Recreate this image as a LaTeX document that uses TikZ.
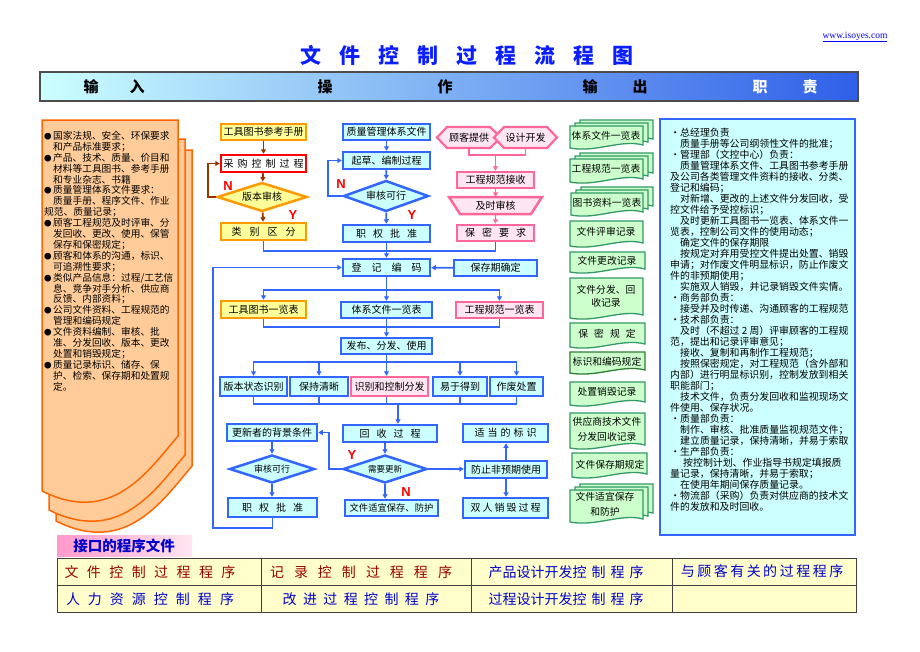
\documentclass[tikz,border=0pt]{standalone}
\usepackage{fontspec}
\setmainfont{Noto Sans CJK SC}
\newfontfamily\lsans{Liberation Sans}
\newfontfamily\lserif{Liberation Serif}
\usetikzlibrary{arrows.meta,shapes.geometric,calc}
\definecolor{orgB}{HTML}{FF9900}
\definecolor{yelF}{HTML}{FFFF99}
\definecolor{brn}{HTML}{993300}
\definecolor{bluB}{HTML}{3366FF}
\definecolor{cyF}{HTML}{CCFFFF}
\definecolor{pkB}{HTML}{FF6699}
\definecolor{pkF}{HTML}{FFE6F2}
\definecolor{grB}{HTML}{339966}
\definecolor{grD}{HTML}{2E7D32}
\definecolor{grF}{HTML}{CCFFCC}
\definecolor{lpF}{HTML}{FFCC99}
\definecolor{lpB}{HTML}{FF6600}
\definecolor{ttl}{HTML}{0A1EFF}
\definecolor{mar}{HTML}{990000}
\definecolor{tblF}{HTML}{FFFFCC}
\definecolor{tblue}{HTML}{0000CC}
\definecolor{hd2}{HTML}{B8ECFF}
\definecolor{hd4}{HTML}{2F5FE8}
\definecolor{pk1}{HTML}{FF99CC}
\definecolor{pk2}{HTML}{FFE6F0}
\newcommand\fsz[1]{\fontsize{#1}{#1}\selectfont}
\makeatletter
\newcommand\lsp[2]{\def\lsp@g{\hspace{#1}}\let\lsp@s\relax\@tfor\lsp@c:=#2\do{\lsp@s\lsp@c\let\lsp@s\lsp@g}}
\makeatother
\newcommand\lbul{\makebox[9pt][l]{\fontsize{7.5}{7.5}\selectfont ●}}
\newcommand\lind{\hspace*{9pt}}
\newcommand\rbul{\makebox[10pt][c]{•}}
\newcommand\rind{\hspace*{10pt}}
\newcommand\docshape[4]{%
  \draw[docst] (#1,#2) -- (#3,#2) -- (#3,{#4-3}) .. controls ({#3-0.3*(#3-#1)},{#4-9}) and ({#1+0.35*(#3-#1)},{#4+5}) .. (#1,#4) -- cycle;}
\newcommand\multidoc[4]{%
  \docshape{#1+10}{#2-6}{#3+10}{#4-6}\docshape{#1+5}{#2-3}{#3+5}{#4-3}\docshape{#1}{#2}{#3}{#4}}
\newcommand\inpage[3]{% left x, top y, right x
  \draw[lpB, fill=lpF, line width=1.5pt] (#1,#2) -- (#3,#2) -- (#3,{#2+316}) .. controls ({#3-30},{#2+351}) and ({#1+70},{#2+406}) .. (#1,{#2+371}) -- cycle;}
\tikzset{
  base/.style={inner sep=0pt, font=\fsz{10}, line width=2.5pt},
  ob/.style={base, draw=orgB, fill=yelF},
  rbx/.style={base, draw=red, fill=white},
  bb/.style={base, draw=bluB, fill=cyF},
  pb/.style={base, draw=pkB, fill=pkF},
  dia/.style={shape=diamond, aspect=3},
  blc/.style={draw=bluB, line width=1.8pt},
  brc/.style={draw=brn, line width=1.8pt},
  pkc/.style={draw=pkB, line width=1.8pt},
  arr/.style={-{Triangle[length=4.5pt,width=5pt]}},
  yn/.style={text=red, font=\lsans\bfseries\fsz{13}, inner sep=0pt},
  docst/.style={draw=grB, fill=grF, line width=1.3pt},
  doct/.style={font=\fsz{9.8}, align=center, inner sep=0pt},
  hdt/.style={font=\bfseries\fsz{15}, inner sep=0pt},
  tbt/.style={font=\fsz{14}, inner sep=0pt},
}
\begin{document}
\begin{tikzpicture}[x=1pt,y=-1pt]
\useasboundingbox (0,0) rectangle (920,651);
\fill[white] (0,0) rectangle (920,651);
% title and url
\node[font=\bfseries\fsz{21}, text=ttl, inner sep=0pt] (title) at (467,55) {\lsp{18pt}{文件控制过程流程图}};
\node[font=\lserif\fsz{9.5}, text=blue, inner sep=0pt] (url) at (855,37) {\underline{www.isoyes.com}};
% header bar
\draw[draw=black!70, line width=1.2pt, left color=cyF, middle color=hd2, right color=hd4] (40,72) rectangle (858,101);
\node[hdt] (h_in1) at (91,87) {输};
\node[hdt] (h_in2) at (137,87) {入};
\node[hdt] (h_op1) at (325,87) {操};
\node[hdt] (h_op2) at (445,87) {作};
\node[hdt] (h_out1) at (590,87) {输};
\node[hdt] (h_out2) at (640,87) {出};
\node[hdt, text=white] (h_re1) at (760,87) {职};
\node[hdt, text=white] (h_re2) at (810,87) {责};
% left input panel
\inpage{56}{150}{192}
\inpage{49}{139}{185}
\inpage{42}{120}{178}
\node[anchor=north west, align=left, inner sep=0pt, font=\fontsize{9.7}{10.9}\selectfont] (inp) at (44,131) {%
\lbul 国家法规、安全、环保要求\\
\lind 和产品标准要求；\\
\lbul 产品、技术、质量、价目和\\
\lind 材料等工具图书、参考手册\\
\lind 和专业杂志、书籍\\
\lbul 质量管理体系文件要求：\\
\lind 质量手册、程序文件、作业\\
规范、质量记录；\\
\lbul 顾客工程规范及时评审、分\\
\lind 发回收、更改、使用、保管\\
\lind 保存和保密规定；\\
\lbul 顾客和体系的沟通，标识、\\
\lind 可追溯性要求；\\
\lbul 类似产品信息：过程/工艺信\\
\lind 息、竞争对手分析、供应商\\
\lind 反馈、内部资料；\\
\lbul 公司文件资料、工程规范的\\
\lind 管理和编码规定\\
\lbul 文件资料编制、审核、批\\
\lind 准、分发回收、版本、更改\\
\lind 处置和销毁规定；\\
\lbul 质量记录标识、储存、保\\
\lind 护、检索、保存期和处置规\\
\lind 定。};
% column 1
\node[ob, minimum width=85pt, minimum height=16pt] (a1) at (263.5,132) {工具图书参考手册};
\node[rbx, minimum width=85pt, minimum height=17pt] (a2) at (263.5,163.5) {\lsp{4pt}{采购控制过程}};
\node[dia, ob, inner sep=0pt, minimum width=90pt, minimum height=29pt] (a3) at (262,197) {版本审核};
\node[ob, minimum width=85pt, minimum height=17pt] (a4) at (263.5,231.5) {\lsp{8pt}{类别区分}};
\draw[brc, arr] (a1) -- (a2);
\draw[brc, arr] (a2) -- (a3);
\draw[brc, arr] (a3) -- (a4);
\draw[brc, arr] (a3.west) -- ++(-8,0) |- (a2.west);
\node[yn] (n1) at (228,186) {N};
\node[yn] (y1) at (293,215) {Y};
% column 2
\node[bb, minimum width=87pt, minimum height=16pt] (b1) at (386.5,132) {质量管理体系文件};
\node[bb, minimum width=87pt, minimum height=17pt] (b2) at (386.5,160.5) {起草、编制过程};
\node[dia, bb, inner sep=0pt, minimum width=85pt, minimum height=31pt] (b3) at (386,196) {审核可行};
\node[bb, minimum width=87pt, minimum height=17pt] (b4) at (386.5,233.5) {\lsp{7pt}{职权批准}};
\draw[blc, arr] (b1) -- (b2);
\draw[blc, arr] (b2) -- (b3);
\draw[blc, arr] (b3) -- (b4);
\draw[blc, arr] (b3.west) -- ++(-14,0) |- (b2.west);
\node[yn] (n2) at (341,184) {N};
\node[yn] (y2) at (412,215) {Y};
% column 3
\draw[pkB, fill=pkF, line width=2.2pt] (437,137.5) -- (447,127) -- (490,127) -- (501,137.5) -- (490,148) -- (447,148) -- cycle;
\node[inner sep=0pt, font=\fsz{10}, minimum width=63pt, minimum height=21pt] (c1) at (469,137.5) {顾客提供};
\draw[pkB, fill=pkF, line width=2.2pt] (494,137.5) -- (504,127) -- (547,127) -- (557,137.5) -- (547,148) -- (504,148) -- cycle;
\node[inner sep=0pt, font=\fsz{10}, minimum width=63pt, minimum height=21pt] (c2) at (525.5,137.5) {设计开发};
\node[pb, minimum width=77pt, minimum height=16pt] (c3) at (495.5,180) {工程规范接收};
\draw[pkB, fill=pkF, line width=2.5pt] (449,197) -- (542,197) -- (531,214) -- (460,214) -- cycle;
\node[inner sep=0pt, font=\fsz{10}, minimum width=80pt, minimum height=17pt] (c4) at (495.5,205.5) {及时审核};
\node[pb, minimum width=77pt, minimum height=16pt] (c5) at (495.5,233) {\lsp{7pt}{保密要求}};
\coordinate (m1) at (495.5,155);
\draw[pkc] (c1.south) |- (m1) -| (c2.south);
\draw[pkc, arr] (m1) -- (c3.north);
\draw[pkc, arr] (c3) -- (c4);
\draw[pkc, arr] (c4) -- (c5);
% merge
\draw[blc] (a4.south) -- ++(0,10) -| (c5.south);
\node[bb, minimum width=87pt, minimum height=17pt] (d1) at (386.5,267.5) {\lsp{10pt}{登记编码}};
\node[bb, minimum width=83pt, minimum height=16pt] (d2) at (495.5,268) {保存期确定};
\draw[blc, arr] (b4) -- (d1);
\draw[blc, arr] (d2) -- (d1);
% lists
\node[ob, minimum width=85pt, minimum height=17pt] (e1) at (263.5,309.5) {工具图书一览表};
\node[bb, minimum width=91pt, minimum height=16pt] (e2) at (386.5,310) {体系文件一览表};
\node[pb, minimum width=87pt, minimum height=16pt] (e3) at (499.5,310) {工程规范一览表};
\coordinate (j1) at (386.5,290);
\draw[blc] (d1.south) -- (j1);
\draw[blc, arr] (j1) -| (e1.north);
\draw[blc, arr] (j1) -| (e3.north);
\draw[blc, arr] (j1) -- (e2.north);
\coordinate (k1) at (386.5,327);
\draw[blc] (e1.south) |- (k1) -| (e3.south);
\draw[blc] (e2.south) -- (k1);
\node[bb, minimum width=91pt, minimum height=16pt] (f1) at (386.5,346) {发布、分发、使用};
\draw[blc, arr] (k1) -- (f1.north);
% five boxes
\node[bb, minimum width=67pt, minimum height=19pt] (g1) at (253.5,386.5) {版本状态识别};
\node[bb, minimum width=58pt, minimum height=19pt] (g2) at (319,386.5) {保持清晰};
\node[pb, minimum width=77pt, minimum height=19pt] (g3) at (389.5,386.5) {识别和控制分发};
\node[bb, minimum width=54pt, minimum height=19pt] (g4) at (460,386.5) {易于得到};
\node[bb, minimum width=53pt, minimum height=19pt] (g5) at (516.5,386.5) {作废处置};
\coordinate (j2) at (386.5,362);
\draw[blc] (f1.south) -- (j2);
\draw[blc, arr] (j2) -| (g1.north);
\draw[blc, arr] (j2) -| (g2.north);
\draw[blc, arr] (j2) -- (j2 |- g3.north);
\draw[blc, arr] (j2) -| (g4.north);
\draw[blc, arr] (j2) -| (g5.north);
\coordinate (k2) at (398,404);
\draw[blc] (g1.south) |- (k2) -| (g5.south);
\draw[blc] (g2.south) -- (g2.south |- k2);
\draw[blc] (j2 |- g3.south) -- (j2 |- k2);
\draw[blc] (g4.south) -- (g4.south |- k2);
% lower section
\node[bb, minimum width=90pt, minimum height=17pt] (h1) at (272,432.5) {更新者的背景条件};
\node[bb, minimum width=94pt, minimum height=17pt] (h2) at (390,433.5) {\lsp{7pt}{回收过程}};
\node[bb, minimum width=85pt, minimum height=18pt] (h3) at (505.5,433) {\lsp{3pt}{适当的标识}};
\draw[blc, arr] (k2) -- (k2 |- h2.north);
\node[dia, bb, inner sep=0pt, minimum width=85pt, minimum height=28pt] (i1) at (272,469) {\fsz{9}审核可行};
\node[dia, bb, inner sep=0pt, minimum width=84pt, minimum height=28pt] (i2) at (385,469) {\fsz{8.5}需要更新};
\node[bb, minimum width=82pt, minimum height=17pt] (i3) at (506,469.5) {防止非预期使用};
\node[bb, minimum width=89pt, minimum height=19pt] (j1b) at (272.5,507.5) {\lsp{7pt}{职权批准}};
\node[bb, minimum width=93pt, minimum height=16pt] (j2b) at (391.5,508) {\fsz{9.3}文件适宜保存、防护};
\node[bb, minimum width=85pt, minimum height=20pt] (j3b) at (505.5,508) {\lsp{2pt}{双人销毁过程}};
\draw[blc, arr] (i2.north |- h2.south) -- (i2.north);
\draw[blc, arr] (i2.west) -- ++(-13,0) |- (h1.east);
\draw[blc, arr] (i2.east) -- (i2.east -| i3.west);
\draw[blc, arr] (i3.north) -- (i3.north |- h3.south);
\draw[blc, arr] (i3.south) -- (i3.south |- j3b.north);
\draw[blc, arr] (i2.south) -- (i2.south |- j2b.north);
\draw[blc, arr] (h1.south) -- (h1.south |- i1.north);
\draw[blc, arr] (i1.south) -- (i1.south |- j1b.north);
\node[yn] (y3) at (352,455) {Y};
\node[yn] (n3) at (406,492) {N};
\coordinate (lp) at (213,528);
\draw[blc, arr] (j1b.south) |- (lp) |- (d1.west);
% right document column
\multidoc{570}{126}{643}{148}
\node[doct] (r1) at (606,136) {体系文件一览表};
\multidoc{570}{159}{643}{182}
\node[doct] (r2) at (606,169) {工程规范一览表};
\multidoc{571}{193}{643}{215}
\node[doct] (r3) at (607,203) {图书资料一览表};
\docshape{570}{221}{643}{246}
\node[doct] (r4) at (606,232) {文件评审记录};
\docshape{570}{252}{645}{272}
\node[doct] (r5) at (607,261) {文件更改记录};
\docshape{570}{278}{643}{318}
\node[doct, font=\fontsize{9.8}{13}\selectfont] (r6) at (606,296) {文件分发、回\\收记录};
\docshape{570}{323}{645}{347}
\node[doct] (r7) at (607,334) {\lsp{6pt}{保密规定}};
\draw[draw=grD, fill=grF, line width=1.3pt] (570,352) -- (645,352) -- (645,370) .. controls (622,364) and (596,378) .. (570,373) -- cycle;
\node[doct] (r8) at (607,362) {标识和编码规定};
\docshape{570}{382}{645}{405}
\node[doct] (r9) at (607,392) {处置销毁记录};
\docshape{570}{413}{645}{448}
\node[doct, font=\fontsize{9.8}{15}\selectfont] (r10) at (607,429) {供应商技术文件\\分发回收记录};
\docshape{572}{453}{647}{477}
\node[doct] (r11) at (610,465) {文件保存期规定};
\multidoc{570}{490}{643}{522}
\node[doct, font=\fontsize{9.8}{15}\selectfont] (r12) at (605,504) {文件适宜保存\\和防护};
% right responsibility panel
\draw[draw=bluB, line width=2.5pt, fill=cyF] (660,119) rectangle (855,535);
\node[anchor=north west, align=left, inner sep=0pt, font=\fontsize{9.9}{11}\selectfont] (resp) at (670,128) {%
\rbul 总经理负责\\
\rind 质量手册等公司纲领性文件的批准；\\
\rbul 管理部（文控中心）负责：\\
\rind 质量管理体系文件、工具图书参考手册\\
及公司各类管理文件资料的接收、分类、\\
登记和编码；\\
\rind 对新增、更改的上述文件分发回收，受\\
控文件给予受控标识；\\
\rind 及时更新工具图书一览表、体系文件一\\
览表，控制公司文件的使用动态；\\
\rind 确定文件的保存期限\\
\rind 按规定对弃用受控文件提出处置、销毁\\
申请；对作废文件明显标识，防止作废文\\
件的非预期使用；\\
\rind 实施双人销毁，并记录销毁文件实情。\\
\rbul 商务部负责：\\
\rind 接受并及时传递、沟通顾客的工程规范\\
\rbul 技术部负责：\\
\rind 及时（不超过 2 周）评审顾客的工程规\\
范，提出和记录评审意见；\\
\rind 接收、复制和再制作工程规范；\\
\rind 按照保密规定，对工程规范（含外部和\\
内部）进行明显标识别，控制发放到相关\\
职能部门；\\
\rind 技术文件，负责分发回收和监视现场文\\
件使用、保存状况。\\
\rbul 质量部负责：\\
\rind 制作、审核、批准质量监视规范文件；\\
\rind 建立质量记录，保持清晰，并易于索取\\
\rbul 生产部负责：\\
\hspace*{13pt}按控制计划、作业指导书规定填报质\\
量记录，保持清晰，并易于索取；\\
\rind 在使用年期间保存质量记录。\\
\rbul 物流部（采购）负责对供应商的技术文\\
件的发放和及时回收。};
% interface procedures
\fill[left color=pk1, right color=pk2] (57,535) rectangle (192,556);
\node[font=\bfseries\fsz{14.5}, text=tblue, inner sep=0pt] (ifc) at (124,545.5) {接口的程序文件};
\draw[fill=tblF, draw=black!75, line width=1pt] (57,558) rectangle (856,612);
\draw[black!75, line width=1pt] (57,585) -- (856,585);
\draw[black!75, line width=1pt] (261,558) -- (261,612);
\draw[black!75, line width=1pt] (471,558) -- (471,612);
\draw[black!75, line width=1pt] (672,558) -- (672,612);
\node[tbt, text=mar] (t11) at (150,572) {\lsp{8.4pt}{文件控制过程程序}};
\node[tbt, text=mar] (t12) at (361,572) {\lsp{10pt}{记录控制过程程序}};
\node[tbt, text=tblue] (t13) at (566,572) {产品设计开发控\hspace{5pt}制\hspace{5pt}程\hspace{5pt}序};
\node[tbt, text=tblue] (t14) at (762,571) {\lsp{2.5pt}{与顾客有关的过程程序}};
\node[tbt, text=tblue] (t21) at (150,599) {\lsp{8pt}{人力资源控制程序}};
\node[tbt, text=tblue] (t22) at (361,599) {\lsp{6.4pt}{改进过程控制程序}};
\node[tbt, text=tblue] (t23) at (566,599) {过程设计开发控\hspace{5pt}制\hspace{5pt}程\hspace{5pt}序};
\end{tikzpicture}
\end{document}
